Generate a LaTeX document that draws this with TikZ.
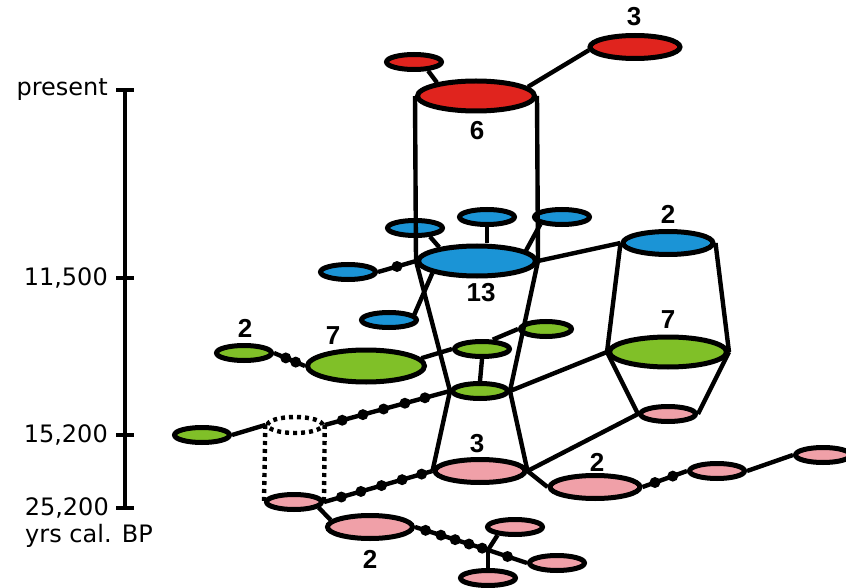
\documentclass[tikz,border=0pt]{standalone}
\usepackage{fontspec}
\setmainfont{DejaVu Sans}
\newfontfamily\numfont{Liberation Sans}
\usetikzlibrary{shapes.geometric,positioning}

\definecolor{hapred}{RGB}{224,36,30}
\definecolor{hapblue}{RGB}{27,148,214}
\definecolor{hapgreen}{RGB}{128,192,40}
\definecolor{happink}{RGB}{240,160,168}

\begin{document}
\begin{tikzpicture}[
    x=1pt, y=-1pt,
    hap/.style={draw, ellipse, line width=5pt, inner sep=0pt},
    small/.style={minimum width=55pt, minimum height=15pt},
    mid/.style={minimum width=90pt, minimum height=23pt},
    big/.style={minimum width=117pt, minimum height=30pt},
    link/.style={line width=4.4pt},
    mut/.style={circle, fill=black, inner sep=0pt, minimum size=11pt},
    ghost/.style={line width=4.4pt, dash pattern=on 4pt off 4pt},
    freq/.style={font=\numfont\bfseries\fontsize{26}{30}\selectfont, inner sep=0pt},
    tiempo/.style={font=\fontsize{24}{28}\selectfont, inner sep=0pt}
  ]
    \useasboundingbox (0,0) rectangle (846,588);

    % escala de tiempo
    \coordinate (t0) at (125,90);
    \coordinate (t1) at (125,278);
    \coordinate (t2) at (125,435);
    \coordinate (t3) at (125,508);
    \draw[link] (t0) -- (t3);
    \foreach \t in {t0,t1,t2,t3}
      \draw[link] ([xshift=-9pt]\t) -- ([xshift=9pt]\t);
    \node[tiempo, left=17pt of t0] (lab0) {present};
    \node[tiempo, left=17pt of t1] (lab1) {11,500};
    \node[tiempo, left=17pt of t2] (lab2) {15,200};
    \node[tiempo, left=16pt of t3] (lab3) {25,200};
    \node[tiempo] (unit) at (89,536) {yrs cal. BP};

    % haplotipos actuales
    \node[hap, big, fill=hapred] (r6) at (476,96) {};
    \node[hap, small, fill=hapred] (rA) at (414,62) {};
    \node[hap, mid, fill=hapred] (r3) at (635,47) {};

    % haplotipos 11,500
    \node[hap, big, fill=hapblue] (b13) at (477,261) {};
    \node[hap, small, fill=hapblue] (bTL) at (415,228) {};
    \node[hap, small, fill=hapblue] (bTM) at (487,217) {};
    \node[hap, small, fill=hapblue] (bTR) at (562,217) {};
    \node[hap, small, fill=hapblue] (bL) at (348,272) {};
    \node[hap, small, fill=hapblue] (bLL) at (389,320) {};
    \node[hap, mid, fill=hapblue] (b2) at (668,243) {};

    % haplotipos 15,200
    \node[hap, big, minimum height=32pt, fill=hapgreen] (g7L) at (366,366) {};
    \node[hap, small, fill=hapgreen] (g2) at (244,353) {};
    \node[hap, small, fill=hapgreen] (gU) at (482,349) {};
    \node[hap, small, fill=hapgreen] (gD) at (480,391) {};
    \node[hap, small, minimum width=51pt, fill=hapgreen] (gR) at (546,329) {};
    \node[hap, big, fill=hapgreen] (g7R) at (668,352) {};
    \node[hap, small, fill=hapgreen] (gFL) at (202,435) {};
    \node[ghost, draw, ellipse, small, minimum height=16pt, inner sep=0pt] (cyl) at (295,425) {};

    % haplotipos 25,200
    \node[hap, mid, fill=happink] (p3) at (480,471) {};
    \node[hap, small, fill=happink] (pL) at (294,502) {};
    \node[hap, mid, minimum width=85pt, fill=happink] (p2B) at (370,527) {};
    \node[hap, small, fill=happink] (pT) at (515,527) {};
    \node[hap, small, fill=happink] (pB) at (488,578) {};
    \node[hap, small, fill=happink] (pR) at (557,563) {};
    \node[hap, mid, fill=happink] (p2R) at (595,487) {};
    \node[hap, small, fill=happink] (pM) at (717,471) {};
    \node[hap, small, fill=happink] (pFR) at (823,455) {};
    \node[hap, small, fill=happink] (pS) at (668,414) {};
    \coordinate (j) at (488,550);

    % frecuencias
    \node[freq] (f6) at (477,131) {6};
    \node[freq] (f3r) at (634,17) {3};
    \node[freq] (f13) at (481,293) {13};
    \node[freq] (f2b) at (668,214) {2};
    \node[freq] (f7l) at (333,336) {7};
    \node[freq] (f2g) at (245,328) {2};
    \node[freq] (f7r) at (668,320) {7};
    \node[freq] (f3p) at (477,444) {3};
    \node[freq] (f2pb) at (370,559) {2};
    \node[freq] (f2pr) at (597,462) {2};

    % red actual
    \draw[link] (rA.-32) -- (r6.161);
    \draw[link] (r6.10) -- (r3.184);
    \draw[link] (r6.west) -- (b13.west);
    \draw[link] (r6.east) -- (b13.east);

    % red 11,500
    \draw[link] (bTL.-30) -- (b13.160);
    \draw[link] (bTM.south) -- (bTM.south |- b13.north);
    \draw[link] (bTR.-162) -- (b13.12);
    \draw[link] (bL.east) -- node[mut] (m1) {} (b13.west);
    \draw[link] (bLL.12) -- (b13.-165);
    \draw[link] (b13.east) -- (b2.west);
    \draw[link] (b13.west) -- (gD.west);
    \draw[link] (b13.east) -- (gD.east);
    \draw[link] (b2.west) -- (g7R.west);
    \draw[link] (b2.east) -- (g7R.east);

    % red 15,200
    \draw[link] (g2.east) -- node[mut, pos=.38] (m2) {}
      node[mut, pos=.7] (m3) {} (g7L.west);
    \draw[link] (g7L.8) -- (gU.west);
    \draw[link] (gU.41) -- (gR.west);
    \draw[link] (gU.south) -- (gD.north);
    \draw[link] (gD.east) -- (g7R.west);
    \draw[link] (gFL.east) -- (cyl.west);
    \draw[link] (cyl.east) -- node[mut, pos=.14] (m4) {}
      node[mut, pos=.305] (m5) {} node[mut, pos=.47] (m6) {}
      node[mut, pos=.64] (m7) {} node[mut, pos=.8] (m8) {} (gD.west);
    \draw[ghost] (cyl.west) -- (pL.west);
    \draw[ghost] (cyl.east) -- (pL.east);
    \draw[link] (gD.west) -- (p3.west);
    \draw[link] (gD.east) -- (p3.east);
    \draw[link] (g7R.west) -- (pS.west);
    \draw[link] (g7R.east) -- (pS.east);

    % red 25,200
    \draw[link] (pS.west) -- (p3.east);
    \draw[link] (pL.east) -- node[mut, pos=.16] (m9) {}
      node[mut, pos=.34] (m10) {} node[mut, pos=.53] (m11) {}
      node[mut, pos=.72] (m12) {} node[mut, pos=.9] (m13) {} (p3.west);
    \draw[link] (pL.-13) -- (p2B.170);
    \draw[link] (p2B.east) -- node[mut, pos=.145] (m14) {}
      node[mut, pos=.355] (m15) {} node[mut, pos=.55] (m16) {}
      node[mut, pos=.74] (m17) {} node[mut, pos=.92] (m18) {} (j);
    \draw[link] (j) -- (pT.205);
    \draw[link] (j) -- (pB.north);
    \draw[link] (j) -- node[mut] (m19) {} (pR.west);
    \draw[link] (p3.east) -- (p2R.west);
    \draw[link] (p2R.east) -- node[mut, pos=.28] (m20) {}
      node[mut, pos=.68] (m21) {} (pM.west);
    \draw[link] (pM.east) -- (pFR.west);
  \end{tikzpicture}
\end{document}
